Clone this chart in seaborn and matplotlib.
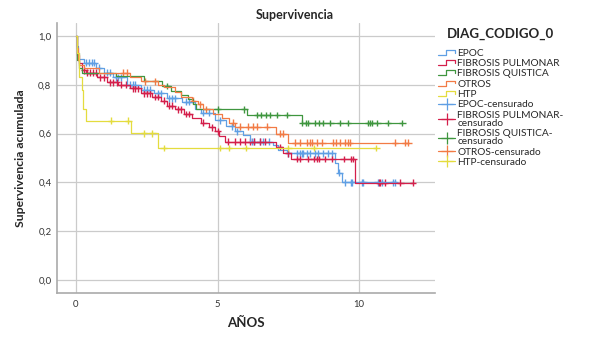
import numpy as np
import pandas as pd
import matplotlib
matplotlib.use("Agg")
import matplotlib.pyplot as plt
from matplotlib.lines import Line2D
from matplotlib.legend_handler import HandlerBase
import seaborn as sns

# %%
# datos (tiempo en años, supervivencia acumulada)
groups = ["EPOC", "FIBROSIS PULMONAR", "FIBROSIS QUISTICA", "OTROS", "HTP"]
colors = ["#5f9fe4", "#d41f4b", "#3f963f", "#f27b45", "#e4dc3e"]

epoc_t = [0.02, 0.06, 0.12, 0.3, 0.7, 1.0, 1.3, 1.8, 2.3, 2.75, 3.2, 3.75, 4.2, 4.4,
          4.9, 5.3, 5.6, 5.9, 6.15, 6.95, 7.15, 7.45, 9.15, 9.25, 9.4]
epoc_s = [0.96, 0.93, 0.905, 0.89, 0.87, 0.85, 0.83, 0.80, 0.78, 0.765, 0.745, 0.73, 0.70, 0.685,
          0.655, 0.63, 0.61, 0.594, 0.566, 0.553, 0.533, 0.52, 0.48, 0.44, 0.40]
epoc_cens = [0.35, 0.45, 0.55, 0.65, 0.8, 1.1, 1.2, 1.4, 1.5, 1.6, 1.9, 2.0, 2.1, 2.4, 2.5,
             2.6, 2.9, 3.0, 3.3, 3.4, 3.5, 3.9, 4.0, 4.5, 4.7, 5.1, 5.5, 5.7, 6.2, 6.3,
             6.5, 6.6, 6.8, 7.5, 7.8, 7.9, 8.0, 8.02, 8.15, 8.27, 8.45, 8.55, 8.73, 8.9,
             9.05, 9.3, 9.5, 9.7, 9.75, 10.1, 10.15, 10.65, 10.8, 11.2, 11.27]

fp_t = [0.02, 0.05, 0.1, 0.2, 0.35, 0.75, 1.1, 1.5, 1.9, 2.3, 2.7, 3.0, 3.2, 3.5, 3.8,
        4.1, 4.4, 4.7, 4.9, 5.05, 5.25, 7.05, 7.3, 7.6, 9.85]
fp_s = [0.95, 0.92, 0.89, 0.86, 0.85, 0.83, 0.81, 0.80, 0.785, 0.765, 0.75, 0.735, 0.715, 0.70, 0.68,
        0.665, 0.645, 0.625, 0.61, 0.59, 0.566, 0.545, 0.52, 0.496, 0.398]
fp_cens = [0.3, 0.4, 0.5, 0.6, 0.7, 0.85, 1.0, 1.2, 1.3, 1.45, 1.6, 1.75, 2.0, 2.1, 2.2,
           2.4, 2.5, 2.6, 2.8, 2.9, 3.1, 3.3, 3.4, 3.6, 3.7, 3.9, 4.0, 4.5, 4.8, 5.0,
           5.37, 5.6, 5.8, 5.97, 6.15, 6.3, 6.5, 6.68, 7.2, 7.5, 7.8, 7.9, 8.2, 8.4,
           8.5, 8.6, 8.8, 9.05, 9.45, 9.7, 9.8, 10.7, 10.75, 10.9, 11.45, 11.9]

fq_t = [0.02, 0.05, 0.1, 0.2, 1.4, 2.4, 3.05, 3.35, 3.7, 3.95, 4.15, 4.25, 6.05, 7.98]
fq_s = [0.95, 0.90, 0.87, 0.85, 0.835, 0.815, 0.795, 0.775, 0.76, 0.74, 0.72, 0.70, 0.676, 0.643]
fq_cens = [3.2, 5.0, 5.95, 6.4, 6.55, 6.7, 6.85, 7.1, 7.45, 8.0, 8.13, 8.2, 8.45, 8.59,
           8.73, 8.98, 9.33, 9.61, 10.32, 10.4, 10.46, 10.64, 11.02, 11.52]

otros_t = [0.02, 0.06, 0.1, 0.3, 0.8, 1.9, 2.3, 2.9, 3.1, 3.5, 3.7, 4.1, 4.3, 4.5,
           4.85, 5.15, 5.4, 5.6, 7.05, 7.5]
otros_s = [0.95, 0.90, 0.88, 0.87, 0.85, 0.83, 0.815, 0.80, 0.79, 0.77, 0.75, 0.735, 0.72, 0.70,
           0.68, 0.665, 0.645, 0.628, 0.60, 0.563]
otros_cens = [1.66, 1.8, 2.44, 2.8, 4.13, 4.38, 4.6, 5.55, 5.8, 6.08, 6.25, 6.4, 6.75, 7.2,
              7.3, 7.75, 7.9, 8.15, 8.27, 8.35, 8.5, 8.7, 9.08, 9.2, 9.33, 9.5, 9.6, 9.68,
              11.27, 11.63, 11.73]

htp_t = [0.05, 0.1, 0.21, 0.25, 0.35, 1.95, 2.9]
htp_s = [0.93, 0.83, 0.78, 0.70, 0.652, 0.602, 0.541]
htp_cens = [1.24, 1.85, 2.4, 2.7, 3.1, 5.1, 5.4, 6.0, 7.5, 8.4, 10.6]

yticks = [0.0, 0.2, 0.4, 0.6, 0.8, 1.0]
ytick_labels = ["0,0", "0,2", "0,4", "0,6", "0,8", "1,0"]
xticks = [0, 5, 10]
xtick_labels = ["0", "5", "10"]

# %%
series = {
  "EPOC": (epoc_t, epoc_s, epoc_cens),
  "FIBROSIS PULMONAR": (fp_t, fp_s, fp_cens),
  "FIBROSIS QUISTICA": (fq_t, fq_s, fq_cens),
  "OTROS": (otros_t, otros_s, otros_cens),
  "HTP": (htp_t, htp_s, htp_cens),
}

line_rows = []
cens_rows = []
for g, (t, s, c) in series.items():
  t = np.array(t)
  s = np.array(s)
  end = max(c)
  tt = np.concatenate([[0.0], t, [end]])
  ss = np.concatenate([[1.0], s, [s[-1]]])
  for a, b in zip(tt, ss):
    line_rows.append({"grupo": g, "t": a, "S": b})
  # valor de la curva en cada censura
  for ci in c:
    k = np.searchsorted(tt, ci, side="right") - 1
    cens_rows.append({"grupo": g, "t": ci, "S": ss[k]})
lines_df = pd.DataFrame(line_rows)
cens_df = pd.DataFrame(cens_rows)
palette = dict(zip(groups, colors))

# %%
sns.set_theme(style="white")
plt.rcParams["font.family"] = ["Lato", "DejaVu Sans"]

fig = plt.figure(figsize=(5.89, 3.53), dpi=100)
ax = fig.add_axes([57/589, 1-293/353, (435-57)/589, (293-23)/353])

sns.lineplot(
  data=lines_df,
  x="t",
  y="S",
  hue="grupo",
  hue_order=groups,
  palette=palette,
  estimator=None,
  sort=False,
  drawstyle="steps-post",
  linewidth=0.9,
  legend=False,
  ax=ax,
)
sns.scatterplot(
  data=cens_df,
  x="t",
  y="S",
  hue="grupo",
  hue_order=groups,
  palette=palette,
  marker="+",
  s=24,
  linewidth=1.0,
  legend=False,
  ax=ax,
)

ax.set_xlim(-0.67, 12.68)
ax.set_ylim(-0.053, 1.053)
ax.set_yticks(yticks, ytick_labels)
ax.set_xticks(xticks, xtick_labels)
ax.grid(True, color="#cbcbcb", linewidth=0.9)
ax.set_axisbelow(True)
ax.tick_params(length=0, labelsize=6.8, labelcolor="#333333")
ax.tick_params(axis="y", pad=4)
ax.tick_params(axis="x", pad=5)
for side in ["top", "right"]:
  ax.spines[side].set_visible(False)
for side in ["left", "bottom"]:
  ax.spines[side].set_color("#aaaaaa")
  ax.spines[side].set_linewidth(1.2)
ax.set_xlabel("AÑOS", fontsize=9.5, fontweight="bold", labelpad=6)
ax.set_ylabel("Supervivencia acumulada", fontsize=8.8, fontweight="bold", labelpad=9)
fig.text(0.5, 1-15/353, "Supervivencia", ha="center", va="center",
         fontsize=9, fontweight="bold")

# leyenda con iconos de escalon y de censura
class StepHandler(HandlerBase):
  def create_artists(self, legend, orig_handle, xdescent, ydescent,
                     width, height, fontsize, trans):
    xs = np.array([0, 0.45, 0.45, 1.0, 1.0]) * width - xdescent
    ys = np.array([0.15, 0.15, 0.85, 0.85, 0.45]) * height - ydescent
    ln = Line2D(xs, ys, color=orig_handle.get_color(), linewidth=0.9, transform=trans)
    return [ln]

step_handles = [Line2D([], [], color=c) for c in colors]
cens_handles = [Line2D([], [], color=c, marker="+", markersize=8, markeredgewidth=0.9,
                       linewidth=0.9) for c in colors]
labels = groups + ["EPOC-censurado", "FIBROSIS PULMONAR-\ncensurado",
                   "FIBROSIS QUISTICA-\ncensurado", "OTROS-censurado", "HTP-censurado"]
handler_map = {h: StepHandler() for h in step_handles}
leg = fig.legend(
  step_handles + cens_handles,
  labels,
  handler_map=handler_map,
  loc="upper left",
  bbox_to_anchor=(431/589, 1-21/353),
  frameon=False,
  title="DIAG_CODIGO_0",
  title_fontproperties={"weight": "bold", "size": 9.5},
  alignment="center",
  fontsize=7.3,
  handlelength=1.7,
  handletextpad=0.2,
  labelspacing=0.12,
  borderpad=0.2,
)
leg._legend_box.sep = 6
for txt in leg.get_texts():
  txt.set_linespacing(0.9)

plt.savefig("out.png", dpi=100)
